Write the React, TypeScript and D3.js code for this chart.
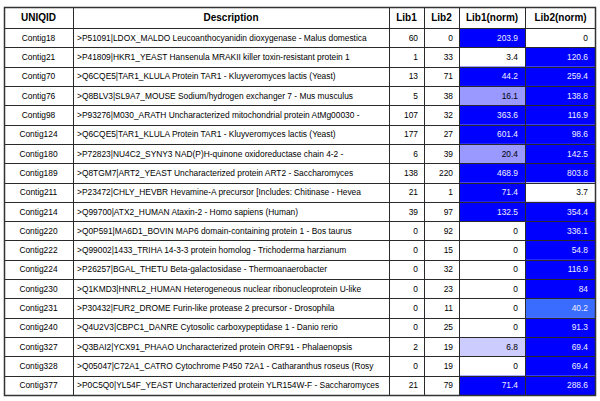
import React from "react";
import * as d3 from "d3";

const headers = ["UNIQID", "Description", "Lib1", "Lib2", "Lib1(norm)", "Lib2(norm)"];
const ids = ["Contig18","Contig21","Contig70","Contig76","Contig98","Contig124","Contig180","Contig189","Contig211","Contig214","Contig220","Contig222","Contig224","Contig230","Contig231","Contig240","Contig327","Contig328","Contig377"];
const descriptions = [
  ">P51091|LDOX_MALDO Leucoanthocyanidin dioxygenase - Malus domestica",
  ">P41809|HKR1_YEAST Hansenula MRAKII killer toxin-resistant protein 1",
  ">Q6CQE5|TAR1_KLULA Protein TAR1 - Kluyveromyces lactis (Yeast)",
  ">Q8BLV3|SL9A7_MOUSE Sodium/hydrogen exchanger 7 - Mus musculus",
  ">P93276|M030_ARATH Uncharacterized mitochondrial protein AtMg00030 -",
  ">Q6CQE5|TAR1_KLULA Protein TAR1 - Kluyveromyces lactis (Yeast)",
  ">P72823|NU4C2_SYNY3 NAD(P)H-quinone oxidoreductase chain 4-2 -",
  ">Q8TGM7|ART2_YEAST Uncharacterized protein ART2 - Saccharomyces",
  ">P23472|CHLY_HEVBR Hevamine-A precursor [Includes: Chitinase - Hevea",
  ">Q99700|ATX2_HUMAN Ataxin-2 - Homo sapiens (Human)",
  ">Q0P591|MA6D1_BOVIN MAP6 domain-containing protein 1 - Bos taurus",
  ">Q99002|1433_TRIHA 14-3-3 protein homolog - Trichoderma harzianum",
  ">P26257|BGAL_THETU Beta-galactosidase - Thermoanaerobacter",
  ">Q1KMD3|HNRL2_HUMAN Heterogeneous nuclear ribonucleoprotein U-like",
  ">P30432|FUR2_DROME Furin-like protease 2 precursor - Drosophila",
  ">Q4U2V3|CBPC1_DANRE Cytosolic carboxypeptidase 1 - Danio rerio",
  ">Q3BAI2|YCX91_PHAAO Uncharacterized protein ORF91 - Phalaenopsis",
  ">Q05047|C72A1_CATRO Cytochrome P450 72A1 - Catharanthus roseus (Rosy",
  ">P0C5Q0|YL54F_YEAST Uncharacterized protein YLR154W-F - Saccharomyces",
];
const lib1 = [60,1,13,5,107,177,6,138,21,39,0,0,0,0,0,0,2,0,21];
const lib2 = [0,33,71,38,32,27,39,220,1,97,92,15,32,23,11,25,19,19,79];
const lib1Norm = [203.9,3.4,44.2,16.1,363.6,601.4,20.4,468.9,71.4,132.5,0,0,0,0,0,0,6.8,0,71.4];
const lib2Norm = [0,120.6,259.4,138.8,116.9,98.6,142.5,803.8,3.7,354.4,336.1,54.8,116.9,84,40.2,91.3,69.4,69.4,288.6];

const colEdges = [4, 73, 389, 424, 459, 525, 596];
const headerTop = 7;
const headerBottom = 28;
const tableBottom = 395;

const color = d3.scaleThreshold<number, string>()
  .domain([5, 10, 30, 42])
  .range(["#ffffff", "#ccccff", "#9999ff", "#3a6cff", "#0000ff"]);
const textColor = (v: number) => (v >= 30 ? "#eeeeff" : "#000000");

const fmt = (v: number) => String(v);

export default function App() {
  const y = d3.scaleBand<string>().domain(ids).range([headerBottom, tableBottom]);
  const font = "'Liberation Sans', Arial, Helvetica, sans-serif";
  const bw = y.bandwidth();
  const line = "#2a2a2a";
  const fs = 8.4;
  return (
    <svg width={600} height={401} style={{ position: "absolute", left: 0, top: 0 }} fontFamily={font}>
      <rect x={0} y={0} width={600} height={401} fill="#ffffff" />
      {headers.map((h, i) => (
        <text key={h} x={(colEdges[i] + colEdges[i + 1]) / 2} y={(headerTop + headerBottom) / 2 + 3.6}
          textAnchor="middle" fontSize={10} fontWeight="bold" fill="#000">{h}</text>
      ))}
      {ids.map((id, r) => {
        const top = y(id)!;
        const cy = top + bw / 2 + 3;
        const v1 = lib1Norm[r];
        const v2 = lib2Norm[r];
        return (
          <g key={id + r}>
            <rect x={colEdges[4]} y={top} width={colEdges[5] - colEdges[4]} height={bw} fill={color(v1)} />
            <rect x={colEdges[5]} y={top} width={colEdges[6] - colEdges[5]} height={bw} fill={color(v2)} />
            <text x={(colEdges[0] + colEdges[1]) / 2} y={cy} textAnchor="middle" fontSize={fs} fill="#000">{id}</text>
            <text x={colEdges[1] + 4} y={cy} fontSize={fs} fill="#000">{descriptions[r]}</text>
            <text x={colEdges[3] - 6} y={cy} textAnchor="end" fontSize={fs} fill="#000">{fmt(lib1[r])}</text>
            <text x={colEdges[4] - 6} y={cy} textAnchor="end" fontSize={fs} fill="#000">{fmt(lib2[r])}</text>
            <text x={colEdges[5] - 7} y={cy} textAnchor="end" fontSize={fs} fill={textColor(v1)}>{fmt(v1)}</text>
            <text x={colEdges[6] - 8} y={cy} textAnchor="end" fontSize={fs} fill={textColor(v2)}>{fmt(v2)}</text>
          </g>
        );
      })}
      {[headerBottom, ...ids.slice(1).map((id) => y(id)!)].map((yy, i) => (
        <line key={"h" + i} x1={colEdges[0]} x2={colEdges[6]} y1={Math.round(yy) + 0.5} y2={Math.round(yy) + 0.5} stroke={line} strokeWidth={1} />
      ))}
      {colEdges.slice(1, -1).map((x, i) => (
        <line key={"v" + i} x1={x + 0.5} x2={x + 0.5} y1={headerTop} y2={tableBottom} stroke={line} strokeWidth={1} />
      ))}
      <rect x={colEdges[0] + 0.5} y={headerTop + 0.5} width={colEdges[6] - colEdges[0] - 1} height={tableBottom - headerTop} fill="none" stroke="#333" strokeWidth={1.5} />
    </svg>
  );
}
